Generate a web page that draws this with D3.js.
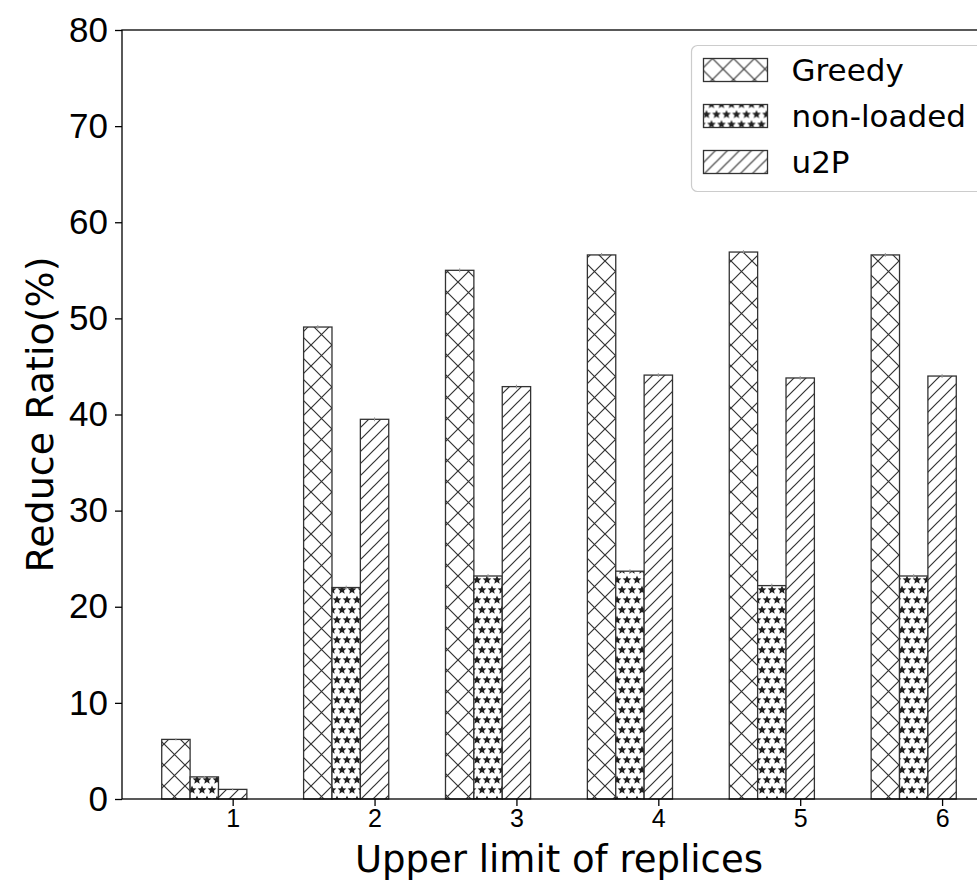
<!DOCTYPE html>
<html>
<head>
<meta charset="utf-8">
<script src="https://cdn.jsdelivr.net/npm/d3@7"></script>
<style>
  body { margin: 0; background: #fff; }
  svg { display: block; font-family: "DejaVu Sans", sans-serif; }
  .axis_labels text { fill: #000; }
</style>
</head>
<body>
<div id="chart"></div>
<script>
(function () {

  // Data
  const categories = [1, 2, 3, 4, 5, 6]
  const seriesNames = ["Greedy", "non-loaded", "u2P"]
  const greedy = [6.2, 49.1, 55.0, 56.6, 56.9, 56.6]
  const nonLoaded = [2.3, 22.0, 23.2, 23.7, 22.2, 23.2]
  const u2p = [1.0, 39.5, 42.9, 44.1, 43.8, 44.0]
  const greedyErr = [0.1, 0.2, 0.2, 0.2, 0.2, 0.2]
  const nonLoadedErr = [0.1, 0.2, 0.2, 0.2, 0.2, 0.2]
  const u2pErr = [0.1, 0.2, 0.2, 0.2, 0.2, 0.2]
  const yTicks = [0, 10, 20, 30, 40, 50, 60, 70, 80]

  // Margin convention (right spine sits past the window edge, as in the original)
  const margin = { top: 30, right: 0, bottom: 83, left: 122 }
  const width = 874
  const height = 882 - margin.top - margin.bottom

  const xScale = d3.scaleLinear()
    .domain([0.22, 6.38])
    .range([0, width])

  const yScale = d3.scaleLinear()
    .domain([0, 80])
    .range([height, 0])

  const barWidth = 0.2
  const offsets = [-0.4, -0.2, 0]
  const hatchIds = ["hatch-x", "hatch-star", "hatch-slash"]

  const series = [greedy, nonLoaded, u2p]
  const errs = [greedyErr, nonLoadedErr, u2pErr]
  const bars = []
  series.forEach((vals, s) => {
    vals.forEach((v, i) => {
      bars.push({ s: s, cat: categories[i], value: v, err: errs[s][i] })
    })
  })

  const svg = d3.select("#chart").append("svg")
    .attr("width", 977)
    .attr("height", 882)

  // Hatch patterns
  const defs = svg.append("defs")
  const ink = "#333"

  const dx = 21
  const px = defs.append("pattern")
    .attr("id", "hatch-x")
    .attr("patternUnits", "userSpaceOnUse")
    .attr("width", dx).attr("height", dx)
  px.append("rect").attr("width", dx).attr("height", dx).attr("fill", "#fff")
  px.append("path")
    .attr("d", `M-1,-1L${dx + 1},${dx + 1}M-1,${dx + 1}L${dx + 1},-1`)
    .attr("stroke", ink).attr("stroke-width", 1.2).attr("fill", "none")

  const ds = 12
  const psl = defs.append("pattern")
    .attr("id", "hatch-slash")
    .attr("patternUnits", "userSpaceOnUse")
    .attr("width", ds).attr("height", ds)
  psl.append("rect").attr("width", ds).attr("height", ds).attr("fill", "#fff")
  psl.append("path")
    .attr("d", `M-1,${ds + 1}L${ds + 1},-1M-2,2L2,-2M${ds - 2},${ds + 2}L${ds + 2},${ds - 2}`)
    .attr("stroke", ink).attr("stroke-width", 1.2).attr("fill", "none")

  const pst = 10
  const pstar = defs.append("pattern")
    .attr("id", "hatch-star")
    .attr("patternUnits", "userSpaceOnUse")
    .attr("width", pst).attr("height", pst * 2)
  pstar.append("rect").attr("width", pst).attr("height", pst * 2).attr("fill", "#fff")
  const starPath = (cx, cy, r) => {
    const pts = []
    for (let k = 0; k < 10; k++) {
      const a = -Math.PI / 2 + k * Math.PI / 5
      const rr = k % 2 === 0 ? r : r * 0.45
      pts.push([cx + rr * Math.cos(a), cy + rr * Math.sin(a)])
    }
    return "M" + pts.map(p => p.join(",")).join("L") + "Z"
  }
  const starPts = [[0, 0], [pst, 0], [0, pst * 2], [pst, pst * 2], [pst / 2, pst]]
  pstar.append("path")
    .attr("d", starPts.map(p => starPath(p[0], p[1], 4.6)).join(""))
    .attr("fill", "#222")

  const g = svg.append("g")
    .attr("transform", "translate(" + margin.left + "," + margin.top + ")")

  // Bars
  g.selectAll("rect.bar")
    .data(bars)
    .join("rect")
    .attr("class", "bar")
    .attr("x", d => xScale(d.cat + offsets[d.s] - barWidth / 2))
    .attr("width", d => xScale(barWidth) - xScale(0))
    .attr("y", d => yScale(d.value))
    .attr("height", d => yScale(0) - yScale(d.value))
    .attr("fill", d => `url(#${hatchIds[d.s]})`)
    .attr("stroke", ink)
    .attr("stroke-width", 1.3)

  // tiny error bars
  g.selectAll("line.err")
    .data(bars)
    .join("line")
    .attr("class", "err")
    .attr("x1", d => xScale(d.cat + offsets[d.s]))
    .attr("x2", d => xScale(d.cat + offsets[d.s]))
    .attr("y1", d => yScale(d.value - d.err))
    .attr("y2", d => yScale(d.value + d.err))
    .attr("stroke", "#999")
    .attr("stroke-width", 1)

  // Axes
  const yAxis = d3.axisLeft(yScale).tickValues(yTicks).tickSize(7).tickPadding(7)
  g.append("g")
    .attr("class", "axis_labels")
    .call(yAxis)
    .call(a => a.selectAll("text").attr("font-size", 35))

  const xAxis = d3.axisBottom(xScale).tickValues(categories).tickFormat(d3.format("d")).tickSize(7).tickPadding(3)
  g.append("g")
    .attr("class", "axis_labels")
    .attr("transform", `translate(0,${height})`)
    .call(xAxis)
    .call(a => a.selectAll("text").attr("font-size", 25))

  g.selectAll(".axis_labels .domain").remove()
  g.selectAll(".axis_labels line").attr("stroke", "#000").attr("stroke-width", 1.3)

  // Frame
  g.append("rect")
    .attr("width", width)
    .attr("height", height)
    .attr("fill", "none")
    .attr("stroke", "#000")
    .attr("stroke-width", 1.3)

  // Axis titles
  svg.append("text")
    .attr("x", margin.left + width / 2)
    .attr("y", 872)
    .attr("text-anchor", "middle")
    .attr("font-size", 37)
    .text("Upper limit of replices")

  svg.append("text")
    .attr("transform", `translate(53,${margin.top + height / 2}) rotate(-90)`)
    .attr("text-anchor", "middle")
    .attr("font-size", 38)
    .text("Reduce Ratio(%)")

  // Legend
  const legend = svg.append("g").attr("transform", "translate(691.5,45.5)")
  legend.append("rect")
    .attr("width", 330)
    .attr("height", 146)
    .attr("rx", 6)
    .attr("fill", "#fff")
    .attr("fill-opacity", 0.8)
    .attr("stroke", "#ccc")
    .attr("stroke-width", 1.2)

  const rows = legend.selectAll("g.row")
    .data(seriesNames)
    .join("g")
    .attr("class", "row")
    .attr("transform", (d, i) => `translate(0,${13 + i * 46})`)

  rows.append("rect")
    .attr("x", 12)
    .attr("width", 64)
    .attr("height", 23)
    .attr("fill", (d, i) => `url(#${hatchIds[i]})`)
    .attr("stroke", ink)
    .attr("stroke-width", 1.3)

  rows.append("text")
    .attr("x", 100)
    .attr("y", 22)
    .attr("font-size", 31)
    .text(d => d)

})();
</script>
</body>
</html>
